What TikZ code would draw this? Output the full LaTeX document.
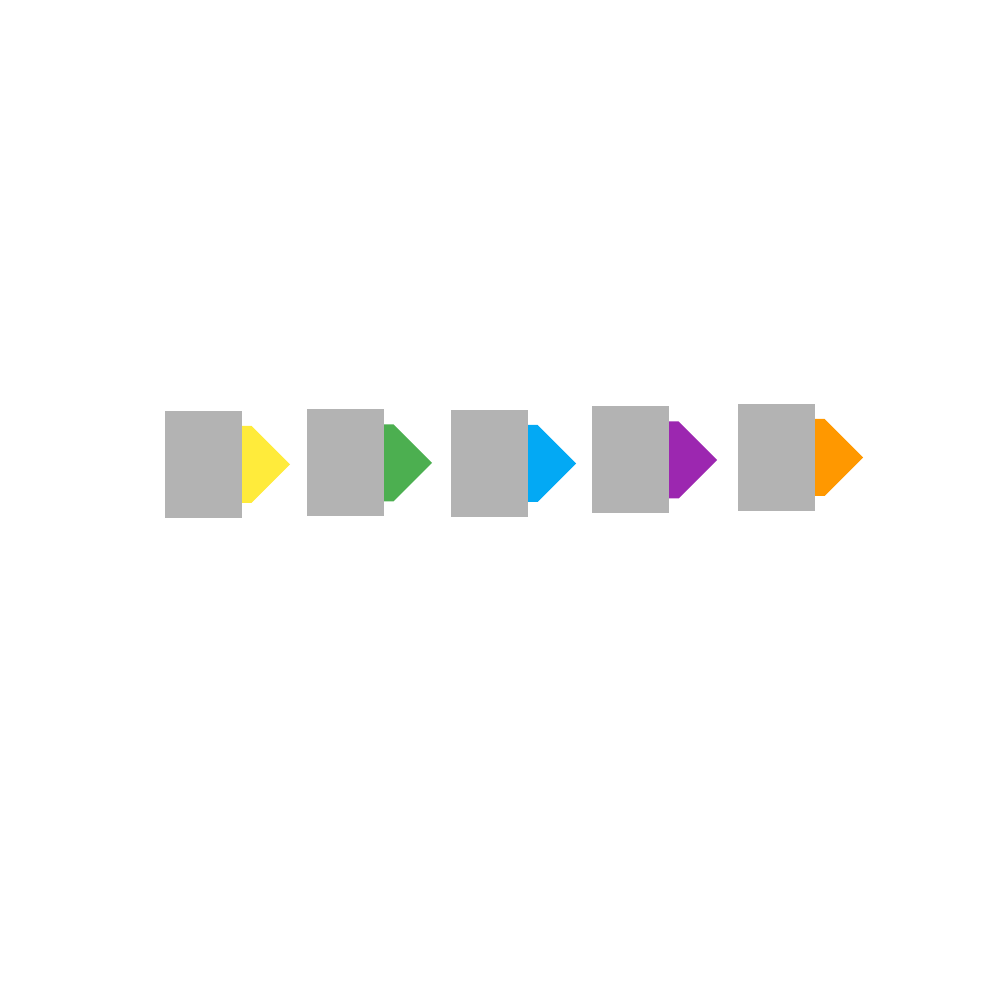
\documentclass[tikz,border=0pt]{standalone}
\usepackage{tikz}
\usetikzlibrary{positioning, shapes.symbols}

\definecolor{pagegray}{HTML}{B3B3B3}
\definecolor{tabyellow}{HTML}{FFEB3B}
\definecolor{tabgreen}{HTML}{4CAF50}
\definecolor{tabblue}{HTML}{03A9F4}
\definecolor{tabpurple}{HTML}{9C27B0}
\definecolor{taborange}{HTML}{FF9800}

\tikzset{
	page/.style={rectangle, fill=pagegray, minimum width=0.77cm, minimum height=1.07cm, inner sep=0, outer sep=0},
	tab/.style={signal, signal to=east, signal pointer angle=90, minimum width=0.48cm, minimum height=0.77cm, inner sep=0, outer sep=0, anchor=west},
}

\begin{document}
\begin{tikzpicture}
	\useasboundingbox (0,0) rectangle (10,10);
	\fill[white] (0,0) rectangle (10,10);

	\node [page] (p1) at (2.035,5.355) {};
	\node [page, right=0.65cm of p1, yshift=0.015cm] (p2) {};
	\node [page, right=0.67cm of p2, yshift=-0.005cm] (p3) {};
	\node [page, right=0.64cm of p3, yshift=0.035cm] (p4) {};
	\node [page, right=0.69cm of p4, yshift=0.025cm] (p5) {};

	\node [tab, fill=tabyellow] (t1) at (p1.east) {};
	\node [tab, fill=tabgreen] (t2) at (p2.east) {};
	\node [tab, fill=tabblue] (t3) at (p3.east) {};
	\node [tab, fill=tabpurple] (t4) at (p4.east) {};
	\node [tab, fill=taborange] (t5) at (p5.east) {};
\end{tikzpicture}
\end{document}
